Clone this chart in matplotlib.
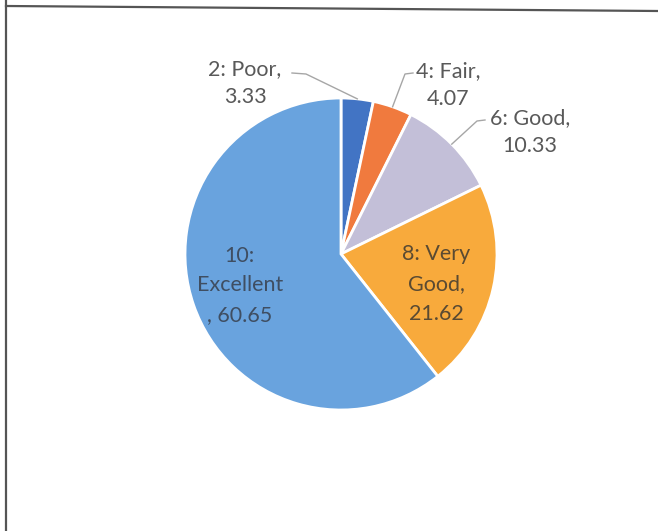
import numpy as np
import matplotlib
matplotlib.use("Agg")
import matplotlib.pyplot as plt

# data
categories = ["2: Poor", "4: Fair", "6: Good", "8: Very Good", "10: Excellent"]
values = [3.33, 4.07, 10.33, 21.62, 60.65]
label_text = ["2: Poor,\n3.33", "4: Fair,\n4.07", "6: Good,\n10.33",
              "8: Very\nGood,\n21.62", "10:\nExcellent\n, 60.65"]
colors = ["#4274c4", "#f07a3e", "#c3bfd8", "#f8aa3c", "#69a3de"]

W, H = 658, 531
fig = plt.figure(figsize=(W / 100, H / 100), dpi=100)
ax = fig.add_axes([0, 0, 1, 1])
ax.axis('off')

cx, cy, R = 341, H - 254, 156
wedges, _ = ax.pie(values, colors=colors, startangle=90, counterclock=False,
                   center=(cx, cy), radius=R,
                   wedgeprops=dict(edgecolor='white', linewidth=2))
ax.set_xlim(0, W)
ax.set_ylim(0, H)
ax.set_aspect('equal')

font = ['Lato', 'DejaVu Sans']
fs = 15.5

# outside labels: text centre, leader start, leader elbow (pixels)
outside = {0: ((245, 83), (292, 73), (306, 74)),
           1: ((448, 85), (413, 73), (405, 74)),
           2: ((530, 132), (485, 120), (477, 121))}
for i, (tpos, p0, p1) in outside.items():
    w = wedges[i]
    ang = np.deg2rad((w.theta1 + w.theta2) / 2)
    ex = cx + R * np.cos(ang)
    ey = cy + R * np.sin(ang)
    ax.text(tpos[0], H - tpos[1], label_text[i], ha='center', va='center',
            fontsize=fs, color='#595959', family=font, linespacing=1.45)
    ax.plot([p0[0], p1[0], ex], [H - p0[1], H - p1[1], ey],
            color='#a6a6a6', lw=1)

# inside labels: radius fraction, angle nudge, colour
inside = {3: (0.64, -4.8, '#5a4a32'), 4: (0.68, -2.0, '#3f4e62')}
for i, (frac, dang, col) in inside.items():
    w = wedges[i]
    ang = np.deg2rad((w.theta1 + w.theta2) / 2 + dang)
    ax.text(cx + frac * R * np.cos(ang), cy + frac * R * np.sin(ang),
            label_text[i], ha='center', va='center', fontsize=fs,
            color=col, family=font, linespacing=1.6)

# chart frame
ax.plot([6, W], [H - 6, H - 11], color='#555555', lw=1.6)
ax.plot([6, 6], [H, 0], color='#555555', lw=1.6)

fig.savefig("out.png", dpi=100)
